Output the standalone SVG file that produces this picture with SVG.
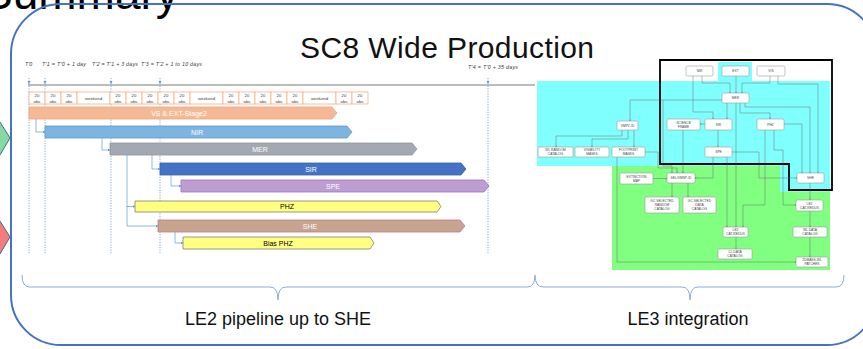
<svg xmlns="http://www.w3.org/2000/svg" width="863" height="349" viewBox="0 0 863 349">
<defs>
<style>
.t{font-family:"Liberation Sans",Arial,sans-serif}
.tl{font-family:"Liberation Sans",Arial,sans-serif;font-size:5.3px;font-style:italic;fill:#404040}
.ob rect{fill:#fff;stroke:#F4B183;stroke-width:0.8}
.ob text{font-family:"Liberation Sans",Arial,sans-serif;font-size:4.3px;fill:#404040;text-anchor:middle}
.bl{font-family:"Liberation Sans",Arial,sans-serif;font-size:7px;text-anchor:middle}
.gc{fill:none;stroke:#5B9BD5;stroke-width:0.7;marker-end:url(#ab)}
.dv{stroke:#5B9BD5;stroke-width:0.8;stroke-dasharray:1.2 1.4}
.nd rect{fill:#fff;stroke:#9a9a9a;stroke-width:0.6}
.nd text{font-family:"Liberation Sans",Arial,sans-serif;font-size:3.3px;fill:#444;text-anchor:middle}
.rc path{fill:none;stroke:#707070;stroke-width:0.5;marker-end:url(#ag)}
.br{fill:none;stroke:#8EAADB;stroke-width:1}
</style>
<marker id="ab" viewBox="0 0 6 6" refX="5" refY="3" markerWidth="4" markerHeight="4" orient="auto"><path d="M0,0 L6,3 L0,6 Z" fill="#5B9BD5"/></marker>
<marker id="ag" viewBox="0 0 6 6" refX="5" refY="3" markerWidth="4" markerHeight="4" orient="auto"><path d="M0,0 L6,3 L0,6" fill="none" stroke="#606060" stroke-width="1"/></marker>
</defs>
<rect width="863" height="349" fill="#fff"/>
<text class="t" x="-18" y="9" font-size="46" fill="#000">Summary</text>

<!-- side arrows -->
<path d="M-20,122 H0 L10,138 L0,155 H-20 Z" fill="#86D9A3" stroke="#3B6E8F" stroke-width="1"/>
<path d="M-20,221 H0 L10,237 L0,254 H-20 Z" fill="#F47C7C" stroke="#3B6E8F" stroke-width="1"/>

<!-- main frame -->
<rect id="frame" x="11" y="4" width="866" height="341" rx="50" fill="none" stroke="#4472C4" stroke-width="2"/>

<text class="t" x="300" y="57.5" font-size="30" fill="#111" textLength="294">SC8 Wide Production</text>

<!-- Gantt timeline -->
<g id="timeline">
<text class="tl" x="25" y="66">T'0</text>
<text class="tl" x="42" y="66" textLength="44">T'1 = T'0 + 1 day</text>
<text class="tl" x="92" y="66" textLength="46">T'2 = T'1 + 3 days</text>
<text class="tl" x="141" y="66" textLength="61">T'3 = T'2 + 1 to 10 days</text>
<text class="tl" x="468" y="69" textLength="50">T'4 = T'0 + 35 days</text>
<line x1="28" y1="85" x2="535" y2="85" stroke="#A6A6A6" stroke-width="1.5"/>
<g fill="#5B9BD5">
<polygon points="27.5,81 30.5,81 29,84"/>
<polygon points="43.5,81 46.5,81 45,84"/>
<polygon points="109.5,81 112.5,81 111,84"/>
<polygon points="158.5,81 161.5,81 160,84"/>
<polygon points="486.5,81 489.5,81 488,84"/>
</g>
<line class="dv" x1="29" y1="78" x2="29" y2="254"/>
<line class="dv" x1="45" y1="78" x2="45" y2="254"/>
<line class="dv" x1="111" y1="78" x2="111" y2="254"/>
<line class="dv" x1="160" y1="78" x2="160" y2="254"/>
<line class="dv" x1="488" y1="78" x2="488" y2="254"/>
</g>

<g id="obs" class="ob">
<rect x="29" y="92" width="16" height="12"/><text x="37" y="97">20</text><text x="37" y="102.5">obs</text>
<rect x="45" y="92" width="16" height="12"/><text x="53" y="97">20</text><text x="53" y="102.5">obs</text>
<rect x="61" y="92" width="16" height="12"/><text x="69" y="97">20</text><text x="69" y="102.5">obs</text>
<rect x="77" y="92" width="33" height="12"/><text x="93.5" y="99.5">weekend</text>
<rect x="110" y="92" width="16" height="12"/><text x="118" y="97">20</text><text x="118" y="102.5">obs</text>
<rect x="126" y="92" width="16" height="12"/><text x="134" y="97">20</text><text x="134" y="102.5">obs</text>
<rect x="142" y="92" width="16" height="12"/><text x="150" y="97">20</text><text x="150" y="102.5">obs</text>
<rect x="158" y="92" width="16" height="12"/><text x="166" y="97">20</text><text x="166" y="102.5">obs</text>
<rect x="174" y="92" width="16" height="12"/><text x="182" y="97">20</text><text x="182" y="102.5">obs</text>
<rect x="190" y="92" width="33" height="12"/><text x="206.5" y="99.5">weekend</text>
<rect x="223" y="92" width="16" height="12"/><text x="231" y="97">20</text><text x="231" y="102.5">obs</text>
<rect x="239" y="92" width="16" height="12"/><text x="247" y="97">20</text><text x="247" y="102.5">obs</text>
<rect x="255" y="92" width="16" height="12"/><text x="263" y="97">20</text><text x="263" y="102.5">obs</text>
<rect x="271" y="92" width="16" height="12"/><text x="279" y="97">20</text><text x="279" y="102.5">obs</text>
<rect x="287" y="92" width="16" height="12"/><text x="295" y="97">20</text><text x="295" y="102.5">obs</text>
<rect x="303" y="92" width="33" height="12"/><text x="319.5" y="99.5">weekend</text>
<rect x="336" y="92" width="16" height="12"/><text x="344" y="97">20</text><text x="344" y="102.5">obs</text>
<rect x="352" y="92" width="16" height="12"/><text x="360" y="97">20</text><text x="360" y="102.5">obs</text>
</g>

<!-- bars -->
<g id="bar-vs"><path d="M29,107 H332 L337,113 L332,119 H29 Z" fill="#F5BA95" stroke="#EFA57C" stroke-width="0.8"/><text class="bl" x="179" y="115.5" fill="#fff">VS &amp; EXT-Stage2</text></g>
<g id="bar-nir"><path d="M45,126 H347 L352,132 L347,138 H45 Z" fill="#7DB5E0" stroke="#5B9BD5" stroke-width="0.8"/><text class="bl" x="197" y="134.5" fill="#fff">NIR</text></g>
<g id="bar-mer"><path d="M110,143 H412 L417,149 L412,155 H110 Z" fill="#A3A9B1" stroke="#8E959D" stroke-width="0.8"/><text class="bl" x="260" y="151.5" fill="#fff">MER</text></g>
<g id="bar-sir"><path d="M160,163 H461 L466,169 L461,175 H160 Z" fill="#4472C4" stroke="#3A62A8" stroke-width="0.8"/><text class="bl" x="311" y="171.5" fill="#fff">SIR</text></g>
<g id="bar-spe"><path d="M181,180 H484 L489,186 L484,192 H181 Z" fill="#BC9ED2" stroke="#A071B8" stroke-width="0.8"/><text class="bl" x="333" y="188.5" fill="#fff">SPE</text></g>
<g id="bar-phz"><path d="M135,201 H437 L441,206.5 L437,212 H135 Z" fill="#FFFF80" stroke="#7F7F7F" stroke-width="0.8"/><text class="bl" x="287" y="209" fill="#000">PHZ</text></g>
<g id="bar-she"><path d="M158,220 H460 L465,226 L460,232 H158 Z" fill="#C6A48E" stroke="#C47A92" stroke-width="0.8"/><text class="bl" x="310" y="228.5" fill="#fff">SHE</text></g>
<g id="bar-bias"><path d="M183,237 H370 L374,243 L370,249 H183 Z" fill="#FFFF80" stroke="#7F7F7F" stroke-width="0.8"/><text class="bl" x="278" y="245.5" fill="#000">Bias PHZ</text></g>

<g id="gantt-connectors">
<path class="gc" d="M36,119 V132 H45"/>
<path class="gc" d="M102,138 V150 H110"/>
<path class="gc" d="M152,155 V169 H160"/>
<path class="gc" d="M171,175 V186 H181"/>
<path class="gc" d="M127,155 V206.5 H135"/>
<path class="gc" d="M127,206 V226 H158"/>
<path class="gc" d="M175,232 V243 H183"/>
</g>

<!-- LE3 diagram -->
<path d="M537,81 H718 V62 H752 V81 H830 V192 H780 V166 H537 Z" fill="#80FFFF"/>
<path d="M612,166 H780 V192 H830 V270 H612 Z" fill="#80FF80"/>
<path d="M660,60 H832 V190 H789 V164 H660 Z" fill="none" stroke="#000" stroke-width="1.8"/>

<g id="le3-connectors" class="rc">
<path d="M702,76 V83 H730 V93"/>
<path d="M736,76 V93"/>
<path d="M770,76 V83 H742 V93"/>
<path d="M693,76 V112 H713 V119"/>
<path d="M727,103 V119"/>
<path d="M778,76 V84 H818 V173"/>
<path d="M740,103 V113 H770 V119"/>
<path d="M745,103 V107 H810 V173"/>
<path d="M784,124 H802 V173"/>
<path d="M705,124 H700"/>
<path d="M718,130 V147"/>
<path d="M722,100 H630 V121"/>
<path d="M663,100 V166 H672 V173"/>
<path d="M683,130 V173"/>
<path d="M645,152 H658 V168 H677 V173"/>
<path d="M713,157 V178 H695"/>
<path d="M732,152 H759 V178 H797"/>
<path d="M653,178.5 H667"/>
<path d="M672,183 V197"/>
<path d="M688,183 V197"/>
<path d="M622,130 V136 H556 V147"/>
<path d="M628,130 V139 H592 V147"/>
<path d="M634,130 V147"/>
<path d="M727,157 V227"/>
<path d="M736,103 V227"/>
<path d="M765,130 V205 H743 V227"/>
<path d="M774,130 V150 H783 V205 H796"/>
<path d="M810,183 V200"/>
<path d="M810,211 V227"/>
<path d="M810,237 V257"/>
<path d="M736,237 V249"/>
<path d="M617,157 V262 H796"/>
</g>

<g id="n-nir" class="nd"><rect x="686" y="66" width="27" height="10" rx="1.5"/><text x="699.5" y="72.2">NIR</text></g>
<g id="n-ext" class="nd"><rect x="722" y="66" width="27" height="10" rx="1.5"/><text x="735.5" y="72.2">EXT</text></g>
<g id="n-vis" class="nd"><rect x="757" y="66" width="28" height="10" rx="1.5"/><text x="771" y="72.2">VIS</text></g>
<g id="n-mer" class="nd"><rect x="722" y="93" width="27" height="10" rx="1.5"/><text x="735.5" y="99.2">MER</text></g>
<g id="n-sf" class="nd"><rect x="667" y="119" width="33" height="11" rx="1"/><text x="683.5" y="123.6">SCIENCE</text><text x="683.5" y="127.6">FRAME</text></g>
<g id="n-sir" class="nd"><rect x="705" y="119" width="27" height="11" rx="1.5"/><text x="718.5" y="125.7">SIR</text></g>
<g id="n-phz" class="nd"><rect x="757" y="119" width="27" height="11" rx="1.5"/><text x="770.5" y="125.7">PHZ</text></g>
<g id="n-spe" class="nd"><rect x="705" y="147" width="27" height="10" rx="1.5"/><text x="718.5" y="153.2">SPE</text></g>
<g id="n-vmpz" class="nd"><rect x="617" y="121" width="21" height="9" rx="1.5"/><text x="627.5" y="126.7">VMPZ-ID</text></g>
<g id="n-wlr" class="nd"><rect x="538" y="147" width="35" height="10" rx="1"/><text x="555.5" y="151.3">WL RANDOM</text><text x="555.5" y="155.3">CATALOG</text></g>
<g id="n-vism" class="nd"><rect x="575" y="147" width="34" height="10" rx="1"/><text x="592" y="151.3">VISIBILITY</text><text x="592" y="155.3">MASKS</text></g>
<g id="n-fpm" class="nd"><rect x="612" y="147" width="33" height="10" rx="1"/><text x="628.5" y="151.3">FOOTPRINT</text><text x="628.5" y="155.3">MASKS</text></g>
<g id="n-ext-map" class="nd"><rect x="620" y="173" width="33" height="11" rx="1"/><text x="636.5" y="177.6">EXTINCTION</text><text x="636.5" y="181.6">MAP</text></g>
<g id="n-sel" class="nd"><rect x="667" y="173" width="28" height="10" rx="1.5"/><text x="681" y="179.2">SEL/VMSP-ID</text></g>
<g id="n-she" class="nd"><rect x="797" y="173" width="27" height="10" rx="1.5"/><text x="810.5" y="179.2">SHE</text></g>
<g id="n-gcr" class="nd"><rect x="645" y="197" width="34" height="16" rx="1"/><text x="662" y="202">GC SELECTED</text><text x="662" y="206">RANDOM</text><text x="662" y="210">CATALOG</text></g>
<g id="n-gcd" class="nd"><rect x="683" y="197" width="33" height="16" rx="1"/><text x="699.5" y="202">GC SELECTED</text><text x="699.5" y="206">DATA</text><text x="699.5" y="210">CATALOG</text></g>
<g id="n-le2r" class="nd"><rect x="796" y="200" width="27" height="11" rx="1.5"/><text x="809.5" y="204.6">LE2</text><text x="809.5" y="208.6">CAT-REDUX</text></g>
<g id="n-le2m" class="nd"><rect x="723" y="227" width="25" height="10" rx="1.5"/><text x="735.5" y="231.3">LE2</text><text x="735.5" y="235.3">CAT-REDUX</text></g>
<g id="n-wld" class="nd"><rect x="793" y="227" width="34" height="10" rx="1"/><text x="810" y="231.3">WL DATA</text><text x="810" y="235.3">CATALOG</text></g>
<g id="n-cld" class="nd"><rect x="718" y="249" width="34" height="10" rx="1"/><text x="735" y="253.3">CL DATA</text><text x="735" y="257.3">CATALOG</text></g>
<g id="n-2dm" class="nd"><rect x="796" y="257" width="32" height="10" rx="1.5"/><text x="812" y="261.3">2DMASS-WL</text><text x="812" y="265.3">PATCHES</text></g>

<!-- braces -->
<path class="br" d="M22,275 Q22,287 30,287 H270 Q278,287 278,300 Q278,287 286,287 H527 Q535,287 535,275"/>
<path class="br" d="M535,275 Q535,287 543,287 H682 Q690,287 690,300 Q690,287 698,287 H836 Q844,287 844,275"/>
<text class="t" x="278" y="325" font-size="18" fill="#111" text-anchor="middle">LE2 pipeline up to SHE</text>
<text class="t" x="688" y="325" font-size="18" fill="#111" text-anchor="middle">LE3 integration</text>
</svg>
